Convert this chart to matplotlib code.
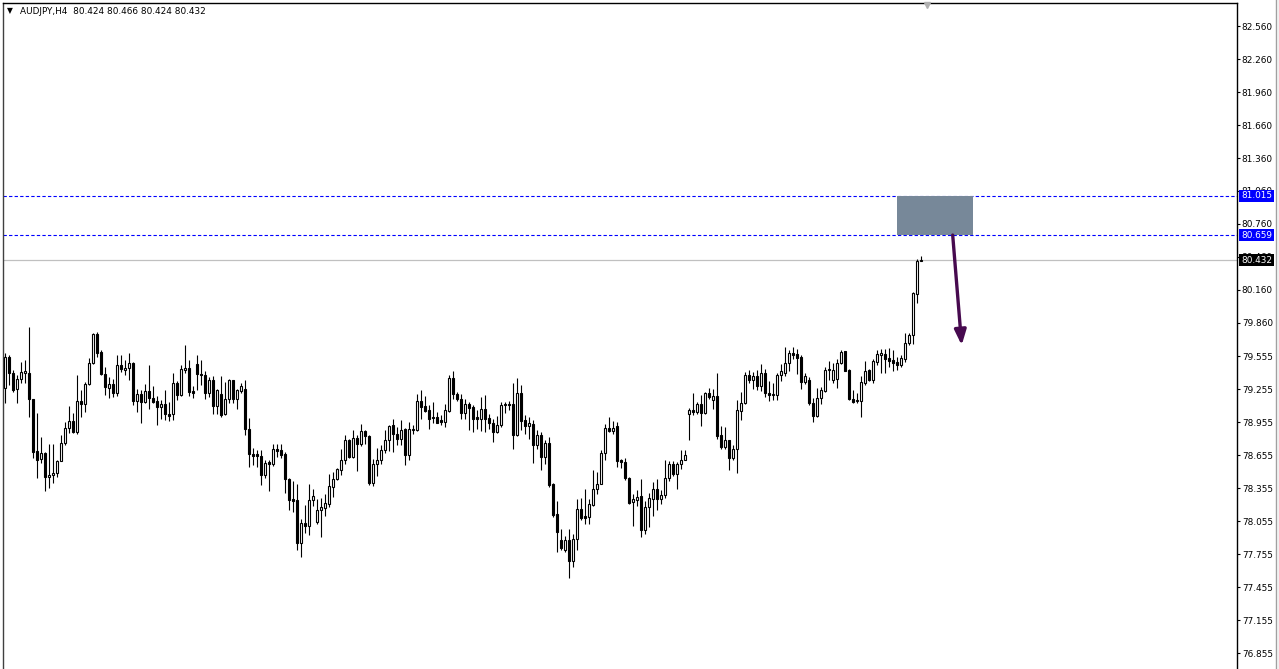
import matplotlib
matplotlib.use("Agg")
import matplotlib.pyplot as plt
import matplotlib.transforms as mtransforms
from matplotlib.patches import Rectangle
import numpy as np

# AUDJPY H4 candles (open, high, low, close)
opens = [
    79.264, 79.552, 79.400, 79.255, 79.346, 79.406, 79.406, 79.164, 78.694, 78.618,
    78.679, 78.455, 78.476, 78.491, 78.606, 78.764, 78.900, 78.967, 78.870, 79.149,
    79.118, 79.300, 79.491, 79.758, 79.591, 79.391, 79.270, 79.303, 79.224, 79.476,
    79.430, 79.446, 79.497, 79.151, 79.209, 79.142, 79.239, 79.181, 79.148, 79.096,
    79.121, 79.027, 79.027, 79.315, 79.200, 79.436, 79.454, 79.242, 79.485, 79.397,
    79.385, 79.224, 79.339, 79.106, 79.209, 79.027, 79.166, 79.339, 79.172, 79.242,
    79.263, 78.899, 78.672, 78.666, 78.651, 78.481, 78.596, 78.581, 78.717, 78.702,
    78.666, 78.444, 78.256, 78.253, 77.859, 78.044, 78.014, 78.247, 78.050, 78.162,
    78.180, 78.217, 78.368, 78.444, 78.526, 78.617, 78.799, 78.641, 78.817, 78.763,
    78.875, 78.829, 78.405, 78.581, 78.611, 78.702, 78.793, 78.929, 78.853, 78.802,
    78.899, 78.656, 78.884, 78.890, 79.147, 79.105, 79.066, 79.005, 79.005, 78.975,
    78.959, 79.056, 79.360, 79.217, 79.172, 79.044, 79.126, 79.096, 79.005, 78.984,
    79.081, 78.996, 78.953, 78.868, 78.929, 79.111, 79.118, 79.121, 78.845, 79.218,
    78.975, 78.920, 78.945, 78.748, 78.839, 78.641, 78.769, 78.393, 78.126, 77.883,
    77.792, 77.889, 77.695, 77.898, 78.171, 78.105, 78.095, 78.208, 78.353, 78.399,
    78.681, 78.908, 78.878, 78.920, 78.611, 78.593, 78.453, 78.232, 78.253, 78.284,
    77.980, 78.186, 78.262, 78.347, 78.262, 78.293, 78.453, 78.581, 78.484, 78.575,
    78.617, 79.027, 79.072, 79.051, 79.121, 79.042, 79.218, 79.163, 79.193, 78.839,
    78.732, 78.793, 78.632, 78.717, 79.060, 79.127, 79.385, 79.339, 79.375, 79.284,
    79.406, 79.224, 79.200, 79.203, 79.385, 79.400, 79.497, 79.588, 79.576, 79.551,
    79.324, 79.345, 79.133, 79.012, 79.181, 79.242, 79.430, 79.345, 79.354, 79.491,
    79.603, 79.430, 79.172, 79.148, 79.151, 79.315, 79.430, 79.345, 79.506, 79.567,
    79.576, 79.545, 79.521, 79.503, 79.476, 79.536, 79.679, 79.749, 80.122, 80.424,
]
highs = [
    79.582, 79.567, 79.430, 79.385, 79.506, 79.521, 79.824, 79.170, 79.037, 78.825,
    78.685, 78.758, 78.758, 78.612, 78.840, 78.961, 79.103, 79.037, 79.385, 79.249,
    79.324, 79.537, 79.770, 79.779, 79.612, 79.461, 79.370, 79.346, 79.567, 79.567,
    79.521, 79.582, 79.506, 79.263, 79.248, 79.303, 79.476, 79.284, 79.193, 79.157,
    79.254, 79.142, 79.400, 79.333, 79.476, 79.658, 79.521, 79.284, 79.567, 79.527,
    79.421, 79.369, 79.375, 79.263, 79.375, 79.324, 79.354, 79.345, 79.263, 79.309,
    79.345, 78.999, 78.726, 78.702, 78.702, 78.611, 78.617, 78.763, 78.757, 78.757,
    78.687, 78.450, 78.420, 78.393, 78.080, 78.202, 78.399, 78.347, 78.256, 78.271,
    78.302, 78.490, 78.505, 78.544, 78.717, 78.845, 78.808, 78.884, 78.839, 78.939,
    78.890, 78.839, 78.626, 78.726, 78.747, 78.884, 78.929, 78.984, 78.914, 78.975,
    78.905, 78.959, 78.935, 79.217, 79.248, 79.196, 79.111, 79.141, 79.050, 79.020,
    79.126, 79.384, 79.420, 79.232, 79.217, 79.172, 79.141, 79.111, 79.066, 79.187,
    79.202, 79.035, 78.990, 79.014, 79.141, 79.142, 79.151, 79.309, 79.363, 79.294,
    79.021, 79.005, 78.975, 78.884, 78.869, 78.793, 78.823, 78.400, 78.241, 77.989,
    77.920, 77.989, 77.944, 78.262, 78.271, 78.353, 78.262, 78.526, 78.505, 78.702,
    78.945, 79.005, 78.969, 78.960, 78.620, 78.635, 78.459, 78.302, 78.338, 78.444,
    78.241, 78.314, 78.414, 78.444, 78.338, 78.617, 78.605, 78.605, 78.596, 78.708,
    78.708, 79.090, 79.224, 79.142, 79.203, 79.233, 79.272, 79.263, 79.400, 78.920,
    78.914, 78.799, 78.748, 79.163, 79.233, 79.415, 79.430, 79.415, 79.436, 79.485,
    79.445, 79.333, 79.309, 79.400, 79.485, 79.642, 79.612, 79.642, 79.627, 79.567,
    79.406, 79.369, 79.181, 79.272, 79.278, 79.460, 79.515, 79.491, 79.536, 79.618,
    79.606, 79.445, 79.254, 79.218, 79.375, 79.515, 79.445, 79.536, 79.618, 79.627,
    79.627, 79.636, 79.612, 79.551, 79.567, 79.764, 79.770, 80.143, 80.437, 80.466,
]
lows = [
    79.128, 79.294, 79.234, 79.134, 79.309, 79.309, 79.006, 78.628, 78.446, 78.582,
    78.334, 78.355, 78.406, 78.461, 78.600, 78.749, 78.855, 78.861, 78.850, 79.006,
    79.052, 79.294, 79.485, 79.552, 79.385, 79.203, 79.173, 79.188, 79.194, 79.415,
    79.385, 79.340, 79.112, 79.051, 78.951, 79.133, 79.078, 79.127, 78.930, 78.990,
    78.981, 78.969, 78.981, 79.157, 79.195, 79.400, 79.193, 79.178, 79.248, 79.294,
    79.166, 79.187, 79.036, 79.036, 79.005, 79.020, 79.133, 79.127, 79.078, 79.224,
    78.845, 78.550, 78.566, 78.550, 78.384, 78.453, 78.332, 78.557, 78.641, 78.635,
    78.314, 78.156, 78.141, 77.792, 77.732, 77.953, 77.935, 78.193, 78.029, 77.914,
    78.102, 78.186, 78.277, 78.429, 78.475, 78.575, 78.635, 78.635, 78.514, 78.738,
    78.757, 78.384, 78.375, 78.466, 78.580, 78.680, 78.692, 78.686, 78.753, 78.753,
    78.571, 78.611, 78.853, 78.874, 78.990, 79.050, 78.893, 78.953, 78.950, 78.929,
    78.914, 79.050, 79.172, 79.147, 78.984, 78.990, 78.884, 78.868, 78.899, 78.874,
    78.868, 78.893, 78.777, 78.860, 78.914, 79.042, 79.072, 78.717, 78.829, 78.884,
    78.848, 78.808, 78.587, 78.717, 78.526, 78.575, 78.368, 78.095, 77.777, 77.792,
    77.777, 77.543, 77.641, 77.792, 78.065, 78.029, 78.029, 78.193, 78.302, 78.399,
    78.617, 78.869, 78.848, 78.550, 78.544, 78.429, 78.217, 78.011, 78.193, 77.914,
    77.944, 78.005, 78.102, 78.156, 78.217, 78.268, 78.423, 78.465, 78.353, 78.535,
    78.611, 78.799, 79.021, 79.036, 78.920, 79.036, 79.172, 79.081, 78.808, 78.717,
    78.717, 78.520, 78.617, 78.496, 78.981, 79.121, 79.309, 79.263, 79.254, 79.242,
    79.187, 79.151, 79.157, 79.163, 79.333, 79.375, 79.424, 79.536, 79.394, 79.263,
    79.303, 79.112, 78.960, 79.005, 79.121, 79.233, 79.345, 79.309, 79.272, 79.485,
    79.424, 79.163, 79.133, 79.133, 79.005, 79.294, 79.333, 79.309, 79.476, 79.406,
    79.406, 79.461, 79.424, 79.430, 79.461, 79.506, 79.658, 79.667, 80.037, 80.424,
]
closes = [
    79.552, 79.400, 79.249, 79.346, 79.415, 79.424, 79.164, 78.688, 78.612, 78.673,
    78.455, 78.476, 78.497, 78.606, 78.764, 78.900, 78.967, 78.870, 79.149, 79.118,
    79.300, 79.497, 79.758, 79.588, 79.391, 79.279, 79.303, 79.224, 79.476, 79.437,
    79.452, 79.491, 79.151, 79.209, 79.142, 79.239, 79.181, 79.142, 79.096, 79.121,
    79.027, 79.015, 79.315, 79.200, 79.439, 79.454, 79.233, 79.224, 79.391, 79.382,
    79.224, 79.339, 79.106, 79.248, 79.021, 79.166, 79.339, 79.166, 79.248, 79.284,
    78.899, 78.666, 78.651, 78.651, 78.481, 78.590, 78.581, 78.717, 78.696, 78.657,
    78.444, 78.253, 78.241, 77.859, 78.044, 78.014, 78.247, 78.284, 78.162, 78.186,
    78.226, 78.375, 78.444, 78.529, 78.617, 78.799, 78.641, 78.817, 78.763, 78.875,
    78.829, 78.405, 78.581, 78.611, 78.702, 78.793, 78.920, 78.853, 78.802, 78.884,
    78.656, 78.899, 78.899, 79.147, 79.096, 79.060, 78.990, 78.996, 78.953, 78.959,
    79.066, 79.360, 79.217, 79.172, 79.044, 79.126, 79.087, 78.984, 78.984, 79.081,
    78.984, 78.953, 78.868, 78.929, 79.111, 79.118, 79.112, 78.845, 79.218, 78.969,
    78.920, 78.951, 78.748, 78.839, 78.641, 78.769, 78.384, 78.111, 77.959, 77.813,
    77.889, 77.695, 77.898, 78.171, 78.089, 78.089, 78.211, 78.353, 78.399, 78.681,
    78.908, 78.878, 78.908, 78.605, 78.593, 78.453, 78.223, 78.256, 78.274, 77.980,
    78.186, 78.268, 78.347, 78.262, 78.293, 78.453, 78.581, 78.484, 78.575, 78.617,
    78.657, 79.072, 79.051, 79.121, 79.042, 79.218, 79.187, 79.193, 78.829, 78.732,
    78.793, 78.632, 78.717, 79.072, 79.127, 79.385, 79.339, 79.375, 79.284, 79.406,
    79.218, 79.200, 79.212, 79.385, 79.421, 79.497, 79.588, 79.567, 79.545, 79.324,
    79.375, 79.133, 79.012, 79.181, 79.248, 79.436, 79.439, 79.436, 79.497, 79.597,
    79.424, 79.172, 79.142, 79.157, 79.324, 79.424, 79.345, 79.515, 79.576, 79.582,
    79.536, 79.515, 79.497, 79.476, 79.545, 79.679, 79.749, 80.134, 80.425, 80.432,
]

symbol = "AUDJPY,H4"
price_ticks = [82.560, 82.260, 81.960, 81.660, 81.360, 81.060, 80.760, 80.460, 80.160,
               79.860, 79.555, 79.255, 78.955, 78.655, 78.355, 78.055, 77.755, 77.455,
               77.155, 76.855]
zone_top = 81.015
zone_bottom = 80.659
bid = 80.432
arrow_end = 79.657

W, H = 1279, 669
fig = plt.figure(figsize=(W / 100, H / 100), dpi=100)
fig.patch.set_facecolor("white")
ax = fig.add_axes([3 / W, 0, (1237 - 3) / W, (H - 2.5) / H])
ax.set_facecolor("white")

n = len(opens)
x = np.arange(n)
o = np.array(opens)
c = np.array(closes)
hi = np.maximum(np.array(highs), np.maximum(o, c))
lo = np.minimum(np.array(lows), np.minimum(o, c))
px = 0.25  # one pixel in candle units (4 px per candle)

ax.vlines(x, lo, hi, color="black", linewidth=0.8, zorder=3)
up = c >= o
body_lo = np.minimum(o, c)
body_h = np.maximum(np.abs(c - o), 0.004)
ax.bar(x[up], body_h[up], bottom=body_lo[up], width=2 * px, color="white",
       edgecolor="black", linewidth=0.8, zorder=4)
ax.bar(x[~up], body_h[~up], bottom=body_lo[~up], width=2 * px, color="black",
       edgecolor="black", linewidth=0.8, zorder=4)

# price levels
ax.axhline(zone_top, color="#0000ff", linewidth=0.8, linestyle=(0, (3, 2)), zorder=2)
ax.axhline(zone_bottom, color="#0000ff", linewidth=0.8, linestyle=(0, (3, 2)), zorder=2)
ax.axhline(bid, color="#c0c0c0", linewidth=0.9, zorder=1)

# supply zone and arrow
zx0 = (896.7 - 5.3) / 4
zx1 = (972.7 - 5.3) / 4
ax.add_patch(Rectangle((zx0, zone_bottom), zx1 - zx0, zone_top - zone_bottom,
                       facecolor="#778899", edgecolor="none", zorder=2))
ax.annotate("", xy=((961.7 - 5.3) / 4, arrow_end), xytext=((952.7 - 5.3) / 4, zone_bottom),
            arrowprops=dict(arrowstyle="-|>,head_length=0.9,head_width=0.35",
                            color="#470a4f", lw=2.4, shrinkA=0, shrinkB=0), zorder=5)

ax.set_xlim((3 - 5.3) / 4, (1237 - 5.3) / 4)
ax.set_ylim(76.712, 82.7745)

font = "DejaVu Sans"
fs = 6.4
ax.yaxis.tick_right()
ax.set_yticks(price_ticks)
ax.set_yticklabels([f"{v:.3f}" for v in price_ticks], fontsize=fs, family=font)
ax.tick_params(axis="y", length=2, width=0.8, pad=1.5, colors="black")
ax.set_xticks([])
ax.spines["bottom"].set_visible(False)
ax.spines["left"].set_color("#404040")
for s in ("top", "right", "left"):
    ax.spines[s].set_linewidth(1.0)

# boxed price labels on the scale
tr = mtransforms.blended_transform_factory(fig.transFigure, ax.transData)
for val, bg in ((zone_top, "#0000ff"), (zone_bottom, "#0000ff"), (bid, "black")):
    ax.text(1241 / W, val, f"{val:.3f}", transform=tr, fontsize=fs, family=font,
            color="white", ha="left", va="center", clip_on=False, zorder=10,
            bbox=dict(boxstyle="square,pad=0.2", facecolor=bg, edgecolor="none"))

# marker at top of chart
ax.plot([(927 - 5.3) / 4], [82.755], marker="v", markersize=5, color="#b0b0b0",
        markeredgecolor="#b0b0b0", clip_on=False, zorder=6)

# header
fig.text(7 / W, 1 - 11 / H, "\u25bc", fontsize=5.5, family=font, va="center", color="black")
fig.text(20 / W, 1 - 11 / H, f"{symbol}  {opens[-1]:.3f} {highs[-1]:.3f} {lows[-1]:.3f} {closes[-1]:.3f}",
         fontsize=fs, family=font, va="center", color="black")

# right edge strip
fig.patches.append(Rectangle((1275 / W, 0), 4 / W, 1, transform=fig.transFigure,
                             facecolor="#f0f0f0", edgecolor="none"))
fig.lines.append(plt.Line2D([1275.5 / W, 1275.5 / W], [0, 1], transform=fig.transFigure,
                            color="#a0a0a0", linewidth=0.8))

fig.savefig("out.png", dpi=100)
